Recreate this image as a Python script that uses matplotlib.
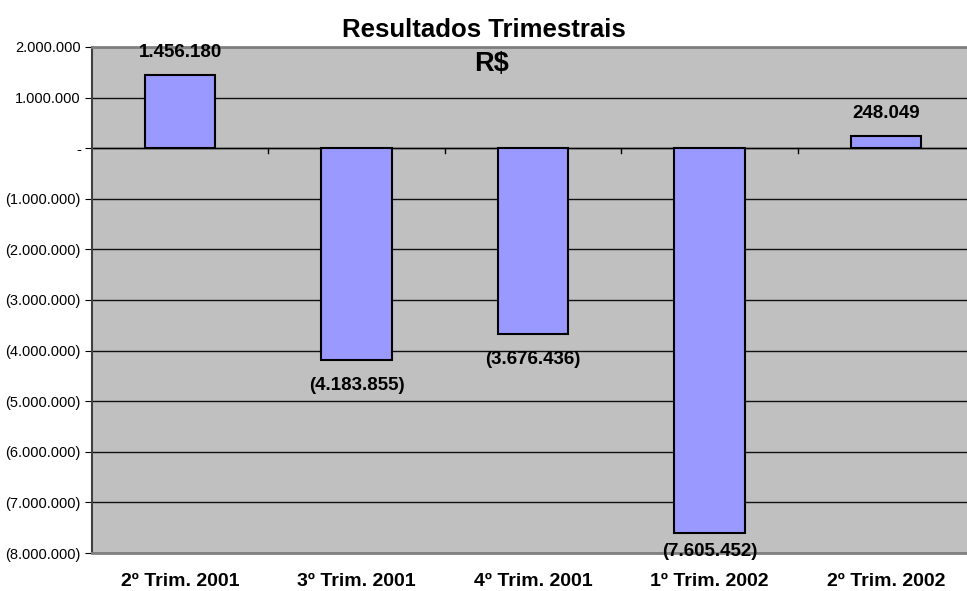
import matplotlib
matplotlib.use("Agg")
from matplotlib import pyplot as plt
from matplotlib.ticker import FuncFormatter, MultipleLocator

plt.rcParams["font.family"] = ["Liberation Sans", "DejaVu Sans"]

# dados
trimestres = ["2º Trim. 2001", "3º Trim. 2001", "4º Trim. 2001", "1º Trim. 2002", "2º Trim. 2002"]
resultados = [1456180, -4183855, -3676436, -7605452, 248049]


def fmt_br(v, pos=None):
    # formato brasileiro: ponto como separador de milhar, negativos entre parênteses
    if abs(v) < 0.5:
        return "-"
    s = f"{abs(v):,.0f}".replace(",", ".")
    return f"({s})" if v < 0 else s


fig = plt.figure(figsize=(9.67, 5.91), dpi=100)
ax = fig.add_axes([92 / 967, 1 - 553 / 591, 882 / 967, (553 - 47) / 591])
ax.set_facecolor("#C0C0C0")

x = range(len(trimestres))
ax.bar(x, resultados, width=0.4, color="#9999FF", edgecolor="black", linewidth=1.5, zorder=3)

ax.set_ylim(-8000000, 2000000)
ax.set_xlim(-0.5, len(trimestres) - 0.5)
ax.yaxis.set_major_locator(MultipleLocator(1000000))
ax.yaxis.set_major_formatter(FuncFormatter(fmt_br))
ax.grid(axis="y", color="#101010", linewidth=1, zorder=1)
ax.axhline(0, color="black", linewidth=1, zorder=2)

# rótulos de dados (o último negativo fica um pouco mais perto da barra, como no original)
for xi, v in zip(x, resultados):
    if v >= 0:
        ax.annotate(fmt_br(v), (xi, v), xytext=(0, 10), textcoords="offset points",
                    ha="center", va="bottom", fontsize=13.5, fontweight="bold", zorder=4)
    else:
        off = -7 if v < -7000000 else -12
        ax.annotate(fmt_br(v), (xi, v), xytext=(0, off), textcoords="offset points",
                    ha="center", va="top", fontsize=13.5, fontweight="bold", zorder=4,
                    annotation_clip=False)

# marcas do eixo x na linha do zero
for b in [0.5, 1.5, 2.5, 3.5]:
    ax.plot([b, b], [0, -90000], color="black", linewidth=1, zorder=2)

ax.set_xticks(list(x))
ax.set_xticklabels(trimestres, fontsize=14, fontweight="bold")
ax.tick_params(axis="x", length=0, pad=14.5)
ax.tick_params(axis="y", labelsize=10.5, length=5, pad=3, direction="out", color="black")

for side in ["top", "right", "bottom"]:
    ax.spines[side].set_color("#808080")
    ax.spines[side].set_linewidth(2)
ax.spines["left"].set_color("#404040")
ax.spines["left"].set_linewidth(1.5)

fig.text(0.5, 1 - 30 / 591, "Resultados Trimestrais", ha="center", va="center",
         fontsize=18.5, fontweight="bold")
ax.text(0.4535, 0.966, "R$", transform=ax.transAxes, ha="center", va="center",
        fontsize=19.5, fontweight="bold")

fig.savefig("out.png", dpi=100)
